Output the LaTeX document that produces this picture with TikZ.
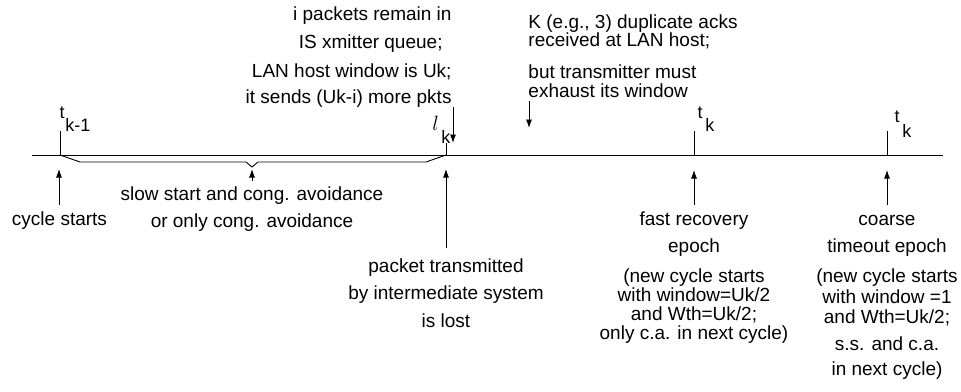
\documentclass[tikz,border=0pt]{standalone}
\usepackage{fontspec}
\setmainfont{Liberation Sans}
\usetikzlibrary{arrows.meta}
\begin{document}
\begin{tikzpicture}[x=1pt,y=-1pt, line width=0.9pt,
  txt/.style={font=\fontsize{19}{20}\selectfont, inner sep=0pt, anchor=base},
  subk/.style={font=\fontsize{18}{18}\selectfont, inner sep=0pt, anchor=base west},
  supt/.style={font=\fontsize{18}{18}\selectfont, inner sep=0pt, anchor=base},
  arr/.style={-{Latex[length=8.5pt,width=6pt]}},
]
\useasboundingbox (0,0) rectangle (961,391);
% timeline
\coordinate (L0) at (32,155);
\coordinate (L1) at (943,155);
\draw (L0) -- (L1);
% ticks
\coordinate (T1a) at (60,131);  \coordinate (T1b) at (60,155);
\coordinate (T2a) at (446,143); \coordinate (T2b) at (446,155);
\coordinate (T3a) at (694,131); \coordinate (T3b) at (694,155);
\coordinate (T4a) at (887,131); \coordinate (T4b) at (887,155);
\draw (T1a) -- (T1b);
\draw (T2a) -- (T2b);
\draw (T3a) -- (T3b);
\draw (T4a) -- (T4b);
% brace
\draw (T1b) -- (80,162) -- (246,162) -- (252,167) -- (258,162) -- (426,162) -- (T2b);
% tick labels
\node[supt] (t1) at (62,118) {t};
\node[subk] (k1) at (65,131) {k-1};
\node[font=\fontsize{22}{22}\selectfont, inner sep=0pt, anchor=base] (l2) at (435.5,130) {$l$};
\node[subk] (k2) at (441,143) {k};
\node[supt] (t3) at (700,118) {t};
\node[subk] (k3) at (705,131) {k};
\node[supt] (t4) at (897,122) {t};
\node[subk] (k4) at (902,137) {k};
% top-left text
\node[txt, anchor=base east] (a1) at (452,20) {i packets remain in};
\node[txt, anchor=base east] (a2) at (443,48) {IS xmitter queue;};
\node[txt, anchor=base east] (a3) at (452,77) {LAN host window is Uk;};
\node[txt, anchor=base east] (a4) at (452,103) {it sends (Uk-i) more pkts};
\coordinate (D1a) at (453,107); \coordinate (D1b) at (453,143);
\draw[arr] (D1a) -- (D1b);
% top-right text
\node[txt, anchor=base west] (b1) at (528,28) {K (e.g., 3) duplicate acks};
\node[txt, anchor=base west] (b2) at (528,46) {received at LAN host;};
\node[txt, anchor=base west] (b3) at (528,78) {but transmitter must};
\node[txt, anchor=base west] (b4) at (528,97) {exhaust its window};
\coordinate (D2a) at (529,101); \coordinate (D2b) at (529,128);
\draw[arr] (D2a) -- (D2b);
% up arrows
\coordinate (U1a) at (59,205);  \coordinate (U1b) at (59,169);
\coordinate (U2a) at (252,181); \coordinate (U2b) at (252,169);
\coordinate (U3a) at (446,248); \coordinate (U3b) at (446,169);
\coordinate (U4a) at (694,205); \coordinate (U4b) at (694,170);
\coordinate (U5a) at (887,205); \coordinate (U5b) at (887,170);
\draw[arr] (U1a) -- (U1b);
\draw[arr] (U2a) -- (U2b);
\draw[arr] (U3a) -- (U3b);
\draw[arr] (U4a) -- (U4b);
\draw[arr] (U5a) -- (U5b);
% bottom texts
\node[txt] (c1) at (59.5,225) {cycle starts};
\node[txt] (s1) at (252,200) {slow start and cong. avoidance};
\node[txt] (s2) at (252,227) {or only cong. avoidance};
\node[txt] (p1) at (446,272) {packet transmitted};
\node[txt] (p2) at (446,299) {by intermediate system};
\node[txt] (p3) at (446,327) {is lost};
\node[txt] (f1) at (694,225) {fast recovery};
\node[txt] (f2) at (694,252) {epoch};
\node[txt] (f3) at (694,282) {(new cycle starts};
\node[txt] (f4) at (694,301) {with window=Uk/2};
\node[txt] (f5) at (694,320) {and Wth=Uk/2;};
\node[txt] (f6) at (694,339) {only c.a. in next cycle)};
\node[txt] (g1) at (887,225) {coarse};
\node[txt] (g2) at (887,252) {timeout epoch};
\node[txt] (g3) at (887,282) {(new cycle starts};
\node[txt] (g4) at (887,303) {with window =1};
\node[txt] (g5) at (887,323) {and Wth=Uk/2;};
\node[txt] (g6) at (887,350) {s.s. and c.a.};
\node[txt] (g7) at (887,375) {in next cycle)};
\end{tikzpicture}
\end{document}
